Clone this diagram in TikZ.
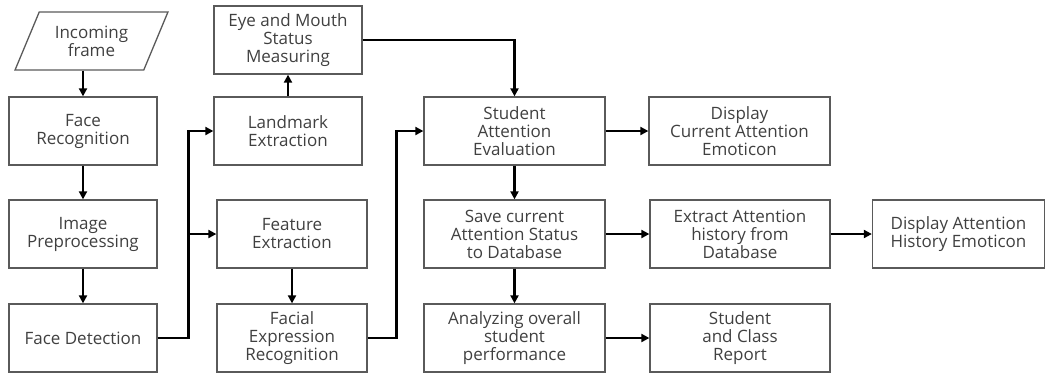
\documentclass[tikz,border=0pt]{standalone}
\usepackage{fontspec}
\setmainfont{Open Sans}
\usetikzlibrary{shapes.geometric,arrows.meta}
\definecolor{boxgray}{HTML}{5A5A5A}
\definecolor{txtgray}{HTML}{404040}
\begin{document}
\begin{tikzpicture}[x=1pt,y=-1pt,
	block/.style = {shape=rectangle, draw=boxgray, line width=1.3pt,
		align=center, text=txtgray, font=\fontsize{17}{18}\selectfont,
		minimum height=68pt, inner sep=0pt},
	narrow/.style = {block, minimum width=148pt},
	wide/.style = {block, minimum width=181pt},
	io/.style = {block, shape=trapezium, trapezium left angle=61,
		trapezium right angle=119, trapezium stretches=true,
		minimum width=153pt, minimum height=58pt},
	arr/.style = {line width=2.6pt, -{Triangle[length=8pt,width=8pt]}}]
	\useasboundingbox (0,0) rectangle (1048,373);
	% first column
	\node[io] (in) at (91.5,41) {Incoming\\frame};
	\node[narrow] (fr) at (83,131) {Face\\Recognition};
	\node[narrow] (ip) at (83,234) {Image\\Preprocessing};
	\node[narrow] (fd) at (83,338) {Face Detection};
	% second column
	\node[narrow] (em) at (288,40) {Eye and Mouth\\Status\\Measuring};
	\node[narrow] (lm) at (288,131) {Landmark\\Extraction};
	\node[narrow, minimum width=150pt] (fe) at (292,234) {Feature\\Extraction};
	\node[narrow, minimum width=150pt] (fx) at (292,338) {Facial\\Expression\\Recognition};
	% third column
	\node[wide] (sa) at (514.5,131) {Student\\Attention\\Evaluation};
	\node[wide] (sv) at (514.5,234) {Save current\\Attention Status\\to Database};
	\node[wide] (an) at (514.5,338) {Analyzing overall\\student\\performance};
	% fourth and fifth column
	\node[wide] (dc) at (739.5,131) {Display\\Current Attention\\Emoticon};
	\node[wide, minimum width=180pt] (ex) at (740,234) {Extract Attention\\history from\\Database};
	\node[wide, minimum width=180pt] (sc) at (740,338) {Student\\and Class\\Report};
	\node[block, minimum width=172pt] (dh) at (958.5,234) {Display Attention\\History Emoticon};

	\draw[arr] (in.south -| fr.north) -- (fr.north);
	\draw[arr] (fr.south) -- (ip.north);
	\draw[arr] (ip.south) -- (fd.north);
	\draw[arr] (fd.east) -- ++(31,0) |- (lm.west);
	\draw[arr] (fd.east) -- ++(31,0) |- (fe.west);
	\draw[arr] (lm.north) -- (em.south);
	\draw[arr] (fe.south) -- (fx.north);
	\draw[arr] (fx.east) -- ++(29,0) |- (sa.west);
	\draw[arr] (em.east) -| (sa.north);
	\draw[arr] (sa.east) -- (dc.west);
	\draw[arr] (sa.south) -- (sv.north);
	\draw[arr] (sv.east) -- (ex.west);
	\draw[arr] (sv.south) -- (an.north);
	\draw[arr] (an.east) -- (sc.west);
	\draw[arr] (ex.east) -- (dh.west);
\end{tikzpicture}
\end{document}
